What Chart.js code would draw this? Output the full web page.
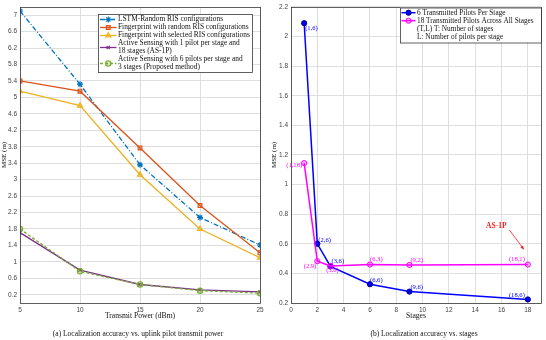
<!DOCTYPE html>
<html><head><meta charset="utf-8">
<script src="https://cdn.jsdelivr.net/npm/chart.js@4.4.1/dist/chart.umd.min.js"></script>
<style>
html,body{margin:0;padding:0;background:#fff;width:546px;height:340px;overflow:hidden}
#l{position:absolute;left:0;top:0}
#r{position:absolute;left:270px;top:0}
</style></head><body>
<canvas id="l" width="270" height="340"></canvas>
<canvas id="r" width="276" height="340"></canvas>
<script>
// ---------- data: left panel ----------
const powerDbm   = [5, 10, 15, 20, 25];
const lstmRandom = [7.10, 5.32, 3.36, 2.08, 1.41];
const fpRandom   = [5.40, 5.15, 3.77, 2.37, 1.22];
const fpSelected = [5.15, 4.80, 3.12, 1.80, 1.10];
const as1p       = [1.71, 0.80, 0.45, 0.32, 0.27];
const proposed   = [1.80, 0.77, 0.45, 0.30, 0.24];
const leftNames = [
  ['LSTM-Random RIS configurations'],
  ['Fingerprint with random RIS configurations'],
  ['Fingerprint with selected RIS configurations'],
  ['Active Sensing with 1 pilot per stage and', '18 stages (AS-1P)'],
  ['Active Sensing with 6 pilots per stage and', '3 stages (Proposed method)']
];
const leftYTicks = [0.2,0.6,1.0,1.4,1.8,2.2,2.6,3.0,3.4,3.8,4.2,4.6,5.0,5.4,5.8,6.2,6.6,7.0];
const leftXTicks = [5, 10, 15, 20, 25];

// ---------- data: right panel ----------
const stages         = [1, 2, 3, 6, 9, 18];
const sixPilots      = [2.09, 0.60, 0.447, 0.327, 0.277, 0.224];
const eighteenPilots = [1.145, 0.482, 0.45, 0.46, 0.457, 0.46];
const sixLabels      = ['(1,6)', '(2,6)', '(3,6)', '(6,6)', '(9,6)', '(18,6)'];
const eighteenLabels = ['(1,18)', '(2,9)', '(3,6)', '(6,3)', '(9,2)', '(18,1)'];
const rightNames = ['6 Transmitted Pilots Per Stage', '18 Transmitted Pilots Across All Stages',
                    '(T,L) T: Number of stages', 'L: Number of pilots per stage'];
const rightYTicks = [0.2,0.4,0.6,0.8,1.0,1.2,1.4,1.6,1.8,2.0,2.2];
const rightXTicks = [0,2,4,6,8,10,12,14,16,18];
const asLabel = 'AS-1P';
const asTextAt = {x: 15.6, y: 0.72};
const asArrow = [{x: 16.58, y: 0.695}, {x: 17.7, y: 0.562}];

// ---------- styles ----------
const SERIF = '"Liberation Serif", "DejaVu Serif", serif';
const SANS = '"Liberation Sans", Arial, sans-serif';
const sixOffsets = [[1,5,'left'],[1,-4,'left'],[1,-5,'left'],[0,-4,'left'],[1,-4,'left'],[-3,-4,'right']];
const eighteenOffsets = [[-2,2,'right'],[-1,5,'right'],[2,4,'center'],[0,-5,'left'],[1,-5,'left'],[-3,-5,'right']];

const H = Chart.helpers;
function pts(xs, ys){ return xs.map((x,i)=>({x:x, y:ys[i]})); }
function fixed(arr){ return function(s){ s.ticks = arr.map(v=>({value:v})); }; }
function fmt(v){ return String(Number(v.toFixed(2))); }

const boxPlugin = {
  id:'box',
  afterDraw(chart){
    const a = chart.chartArea, c = chart.ctx;
    c.save(); c.strokeStyle = '#3a3a3a'; c.lineWidth = 0.8;
    c.strokeRect(Math.round(a.left)+0.5, Math.round(a.top)+0.5, Math.round(a.right-a.left), Math.round(a.bottom-a.top));
    c.restore();
  }
};
const captionPlugin = {
  id:'caption',
  afterDraw(chart, args, o){
    const c = chart.ctx; c.save();
    c.font = '7.5px ' + SERIF; c.fillStyle = '#111'; c.textAlign = 'center'; c.textBaseline = 'middle';
    c.fillText(o.text, o.x, o.y); c.restore();
  }
};
function drawMarker(c, ds, x, y){
  if (!ds.pointStyle) return;
  c.save();
  c.setLineDash([]);
  c.strokeStyle = ds.pointBorderColor || ds.borderColor;
  c.fillStyle = ds.pointBackgroundColor || ds.borderColor;
  c.lineWidth = ds.pointBorderWidth || 1;
  H.drawPoint(c, {pointStyle: ds.pointStyle, radius: ds.pointRadius, rotation: 0, borderWidth: c.lineWidth}, x, y);
  c.restore();
}
const legendPlugin = {
  id:'boxLegend',
  afterDraw(chart, args, o){
    const c = chart.ctx; c.save();
    c.fillStyle = '#fff'; c.fillRect(o.box[0], o.box[1], o.box[2]-o.box[0], o.box[3]-o.box[1]);
    c.strokeStyle = '#3a3a3a'; c.lineWidth = 0.8;
    c.strokeRect(o.box[0]+0.5, o.box[1]+0.5, o.box[2]-o.box[0], o.box[3]-o.box[1]);
    c.font = o.font + 'px ' + SERIF; c.fillStyle = '#111'; c.textAlign = 'left'; c.textBaseline = 'middle';
    let row = 0;
    o.entries.forEach((e, i) => {
      const lines = e.lines;
      const yMid = o.y0 + o.dy * (row + (lines.length-1)/2);
      if (e.ds !== undefined) {
        const ds = chart.data.datasets[e.ds];
        c.save();
        c.strokeStyle = ds.borderColor; c.lineWidth = ds.borderWidth;
        c.setLineDash(ds.borderDash || []);
        c.beginPath(); c.moveTo(o.lx0, yMid); c.lineTo(o.lx1, yMid); c.stroke();
        c.restore();
        drawMarker(c, ds, (o.lx0+o.lx1)/2, yMid);
      }
      lines.forEach((t, k) => { c.fillText(t, o.tx, o.y0 + o.dy * (row + k)); });
      row += lines.length;
    });
    c.restore();
  }
};
const pointLabelPlugin = {
  id:'pointLabels',
  afterDatasetsDraw(chart, args, o){
    const c = chart.ctx, xs = chart.scales.x, ys = chart.scales.y;
    c.save(); c.font = '6.6px ' + SERIF; c.textBaseline = 'middle';
    o.sets.forEach(s => {
      c.fillStyle = s.color;
      s.labels.forEach((t, i) => {
        const px = xs.getPixelForValue(s.xs[i]), py = ys.getPixelForValue(s.ys[i]);
        const off = s.offsets[i];
        c.textAlign = off[2];
        c.fillText(t, px + off[0], py + off[1]);
      });
    });
    // AS-1P annotation
    const tx = xs.getPixelForValue(asTextAt.x), ty = ys.getPixelForValue(asTextAt.y);
    c.fillStyle = '#ee1c1c'; c.font = 'bold 7.5px ' + SERIF; c.textAlign = 'center';
    c.fillText(asLabel, tx, ty);
    const x0 = xs.getPixelForValue(asArrow[0].x), y0 = ys.getPixelForValue(asArrow[0].y);
    const x1 = xs.getPixelForValue(asArrow[1].x), y1 = ys.getPixelForValue(asArrow[1].y);
    c.strokeStyle = '#ee1c1c'; c.lineWidth = 0.8;
    c.beginPath(); c.moveTo(x0, y0); c.lineTo(x1, y1); c.stroke();
    const ang = Math.atan2(y1-y0, x1-x0), L = 4;
    c.beginPath(); c.moveTo(x1, y1);
    c.lineTo(x1 - L*Math.cos(ang-0.4), y1 - L*Math.sin(ang-0.4));
    c.lineTo(x1 - L*Math.cos(ang+0.4), y1 - L*Math.sin(ang+0.4));
    c.closePath(); c.fillStyle = '#ee1c1c'; c.fill();
    c.restore();
  }
};

function axisCommon(){
  return {
    type:'linear',
    grid:{color:'#dedede', lineWidth:1, drawTicks:false},
    border:{display:false},
    ticks:{font:{family:SANS, size:6.5}, color:'#444', padding:3, callback: fmt, maxRotation:0, autoSkip:false}
  };
}

// ---------- left chart ----------
const lx = axisCommon(), ly = axisCommon();
Object.assign(lx, {min:5, max:25, afterBuildTicks: fixed(leftXTicks), afterFit: s => { s.height = 37; },
  title:{display:true, text:'Transmit Power (dBm)', font:{family:SERIF, size:7.6}, color:'#111', padding:{top:0, bottom:19}}});
Object.assign(ly, {min:0, max:7.2, afterBuildTicks: fixed(leftYTicks), afterFit: s => { s.width = 20; },
  title:{display:true, text:'MSE (m)', font:{family:SERIF, size:7}, color:'#111', padding:{top:0, bottom:0}}});

new Chart(document.getElementById('l'), {
  type:'line',
  data:{datasets:[
    {data:pts(powerDbm, lstmRandom), borderColor:'#0072BD', borderWidth:1.3, borderDash:[5,2,1,2], pointStyle:'star', pointRadius:3, pointBorderWidth:1.2, pointBackgroundColor:'#0072BD', order:5},
    {data:pts(powerDbm, fpRandom), borderColor:'#D95319', borderWidth:1.3, pointStyle:'rect', pointRadius:2.7, pointBorderWidth:1.1, pointBackgroundColor:'rgba(217,83,25,0.35)', order:4},
    {data:pts(powerDbm, fpSelected), borderColor:'#EDB120', borderWidth:1.3, pointStyle:'triangle', pointRadius:3, pointBorderWidth:1.1, pointBackgroundColor:'rgba(237,177,32,0.5)', order:3},
    {data:pts(powerDbm, as1p), borderColor:'#7E2F8E', borderWidth:1.3, pointStyle:'crossRot', pointRadius:2.3, pointBorderWidth:1.1, order:2},
    {data:pts(powerDbm, proposed), borderColor:'#77AC30', borderWidth:1.3, borderDash:[3,2], pointStyle:'circle', pointRadius:2.7, pointBorderWidth:1.1, pointBackgroundColor:'rgba(119,172,48,0.35)', order:1}
  ]},
  options:{
    responsive:false, animation:false, devicePixelRatio:1,
    layout:{padding:{left:0, right:10, top:2, bottom:0}},
    scales:{x:lx, y:ly},
    plugins:{
      legend:{display:false}, tooltip:{enabled:false},
      boxLegend:{box:[98,14,252,72], lx0:100, lx1:116.5, tx:118, y0:19.5, dy:8, font:7.4,
        entries: leftNames.map((n,i)=>({lines:n, ds:i}))},
      caption:{text:'(a) Localization accuracy vs. uplink pilot transmit power', x:138, y:334.5}
    }
  },
  plugins:[boxPlugin, legendPlugin, captionPlugin]
});

// ---------- right chart ----------
const rx = axisCommon(), ry = axisCommon();
Object.assign(rx, {min:0, max:19, afterBuildTicks: fixed(rightXTicks), afterFit: s => { s.height = 37; },
  title:{display:true, text:'Stages', font:{family:SERIF, size:7.6}, color:'#111', padding:{top:0, bottom:19}}});
Object.assign(ry, {min:0.2, max:2.2, afterBuildTicks: fixed(rightYTicks), afterFit: s => { s.width = 21; },
  title:{display:true, text:'MSE (m)', font:{family:SERIF, size:7}, color:'#111', padding:{top:0, bottom:0}}});

new Chart(document.getElementById('r'), {
  type:'line',
  data:{datasets:[
    {data:pts(stages, sixPilots), borderColor:'#0000FF', borderWidth:1.5, pointStyle:'circle', pointRadius:2.6, pointBorderWidth:1, pointBackgroundColor:'#0000FF', pointBorderColor:'#000080', order:2},
    {data:pts(stages, eighteenPilots), borderColor:'#FF00FF', borderWidth:1.5, pointStyle:'circle', pointRadius:2.6, pointBorderWidth:1, pointBackgroundColor:'rgba(255,0,255,0.3)', order:1}
  ]},
  options:{
    responsive:false, animation:false, devicePixelRatio:1,
    layout:{padding:{left:0, right:2, top:4, bottom:0}},
    scales:{x:rx, y:ry},
    plugins:{
      legend:{display:false}, tooltip:{enabled:false},
      boxLegend:{box:[130,7.5,271,42.5], lx0:131.5, lx1:145.5, tx:147, y0:12.7, dy:8, font:7.3,
        entries: rightNames.map((n,i)=>({lines:[n], ds: i < 2 ? i : undefined}))},
      pointLabels:{sets:[
        {xs:stages, ys:sixPilots, labels:sixLabels, offsets:sixOffsets, color:'#0000FF'},
        {xs:stages, ys:eighteenPilots, labels:eighteenLabels, offsets:eighteenOffsets, color:'#FF00FF'}
      ]},
      caption:{text:'(b) Localization accuracy vs. stages', x:154, y:334.5}
    }
  },
  plugins:[boxPlugin, pointLabelPlugin, legendPlugin, captionPlugin]
});
</script>
</body></html>
